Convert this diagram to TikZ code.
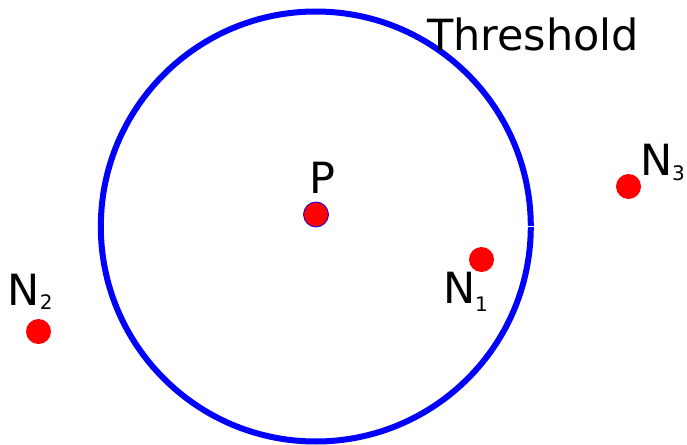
\documentclass[tikz,border=0pt]{standalone}
\usepackage{fontspec}
\setmainfont{DejaVu Sans}
\definecolor{pblue}{RGB}{0,0,255}
\definecolor{pred}{RGB}{255,0,0}
\tikzset{
  x=1pt, y=-1pt,
  ring/.style={draw=pblue, line width=6pt},
  dot/.style={circle, fill=pred, inner sep=0pt, minimum size=25pt},
  lbl/.style={anchor=base west, inner sep=0pt, outer sep=0pt, font=\fontsize{43pt}{43pt}\selectfont},
}
\newcommand{\subtxt}[2]{\raisebox{-#1pt}{\fontsize{20pt}{20pt}\selectfont #2}}
\begin{document}
\begin{tikzpicture}
\useasboundingbox (0,0) rectangle (687,444);
\coordinate (c) at (315.8,226.5);
\draw[ring] ([shift={(0.15:215)}]c) arc[start angle=0.15, end angle=359.85, radius=215];
\node[dot, draw=pblue, line width=0.8pt, minimum size=25pt] (p) at (316,214.5) {};
\node[dot] (n1) at (481.5,259.5) {};
\node[dot] (n2) at (38.5,331.5) {};
\node[dot] (n3) at (628.5,186.5) {};
\node[lbl] (lp) at (309,193) {P};
\node[lbl] (ln1) at (443,303) {N\subtxt{8}{1}};
\node[lbl] (ln2) at (7.7,305) {N\subtxt{4}{2}};
\node[lbl] (ln3) at (640,175) {N\subtxt{5}{3}};
\node[lbl] (lt) at (427,50) {Threshold};
\end{tikzpicture}
\end{document}
